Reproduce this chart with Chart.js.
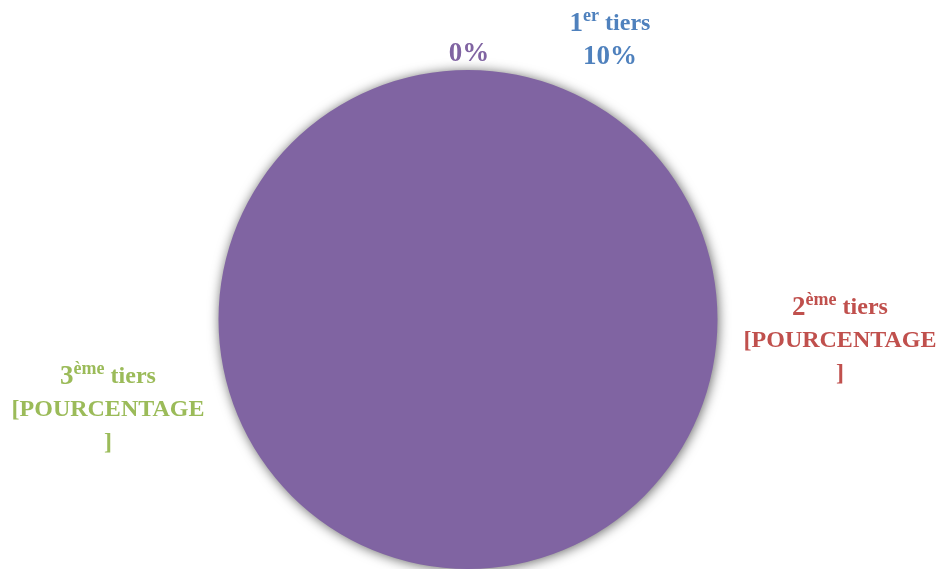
<!DOCTYPE html>
<html>
<head>
<meta charset="utf-8">
<script src="https://cdn.jsdelivr.net/npm/chart.js@4/dist/chart.umd.min.js"></script>
<style>
  html, body { margin: 0; padding: 0; background: #fff; }
  #wrap { width: 941px; height: 569px; }
</style>
</head>
<body>
<div id="wrap"><canvas id="pie"></canvas></div>
<script>
// données du graphique
const categories = ['1er tiers', '2ème tiers', '3ème tiers', ''];
const values = [0, 0, 0, 100];
const valueLabels = ['10%', '[POURCENTAGE]', '[POURCENTAGE]', '0%'];
const colors = ['#4F81BD', '#C0504D', '#9BBB59', '#8064A2'];

// emplacement des étiquettes (centre x, y de la 1re ligne)
const labelPos = [
  { x: 610, y: 24 },
  { x: 840, y: 308 },
  { x: 108, y: 377 },
  { x: 469, y: 54 }
];

const FONT = '"Liberation Serif", "DejaVu Serif", serif';

// ombre autour du camembert
const shadowPlugin = {
  id: 'pieShadow',
  beforeDatasetsDraw(chart) {
    const ctx = chart.ctx;
    ctx.save();
    ctx.shadowColor = 'rgba(0,0,0,0.6)';
    ctx.shadowBlur = 12;
    ctx.shadowOffsetX = 1;
    ctx.shadowOffsetY = 1;
  },
  afterDatasetsDraw(chart) {
    chart.ctx.restore();
  }
};

function wrapText(ctx, txt, maxW) {
  const out = [];
  let cur = '';
  for (const ch of txt) {
    if (cur && ctx.measureText(cur + ch).width > maxW) {
      out.push(cur);
      cur = ch;
    } else cur += ch;
  }
  if (cur) out.push(cur);
  return out;
}

// étiquettes façon Excel (avec exposant "er", "ème")
const labelPlugin = {
  id: 'tierLabels',
  afterDraw(chart) {
    const ctx = chart.ctx;
    const big = 'bold 24px ' + FONT;
    const num = 'bold 27px ' + FONT;
    const small = 'bold 18px ' + FONT;
    const lh = 33;
    ctx.save();
    ctx.textBaseline = 'middle';
    categories.forEach((cat, i) => {
      const p = labelPos[i];
      ctx.fillStyle = colors[i];
      let y = p.y;
      if (cat) {
        const m = cat.match(/^(\d)(\S+) (.*)$/);
        const parts = [[m[1], num, 0], [m[2], small, -8], [' ' + m[3], big, 0]];
        let w = 0;
        parts.forEach(([t, f]) => { ctx.font = f; w += ctx.measureText(t).width; });
        let x = p.x - w / 2;
        ctx.textAlign = 'left';
        parts.forEach(([t, f, dy]) => {
          ctx.font = f;
          ctx.fillText(t, x, y + dy);
          x += ctx.measureText(t).width;
        });
        y += lh;
      }
      const txt = valueLabels[i];
      ctx.font = /^\d/.test(txt) ? num : big;
      ctx.textAlign = 'center';
      wrapText(ctx, txt, 198).forEach(line => {
        ctx.fillText(line, p.x, y);
        y += lh;
      });
    });
    ctx.restore();
  }
};

new Chart(document.getElementById('pie'), {
  type: 'pie',
  data: {
    labels: categories,
    datasets: [{
      data: values,
      backgroundColor: colors,
      borderWidth: 0
    }]
  },
  options: {
    responsive: true,
    maintainAspectRatio: false,
    animation: false,
    layout: { padding: { top: 70, bottom: 0, left: 218, right: 223 } },
    plugins: {
      legend: { display: false },
      tooltip: { enabled: false }
    }
  },
  plugins: [shadowPlugin, labelPlugin]
});
</script>
</body>
</html>
